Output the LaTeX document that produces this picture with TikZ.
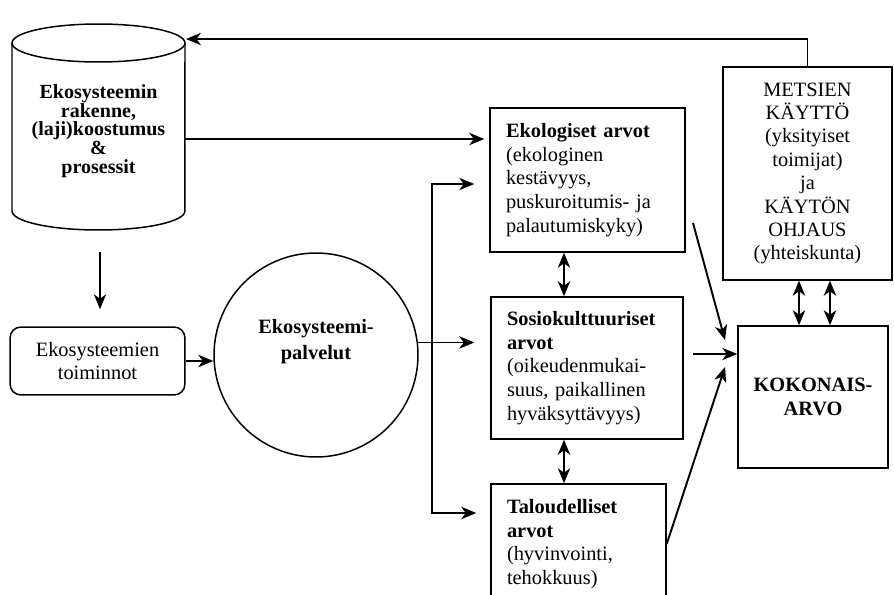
\documentclass[tikz,border=0pt]{standalone}
\usepackage{fontspec}
\setmainfont{Liberation Serif}
\usetikzlibrary{arrows.meta}

\begin{document}
\begin{tikzpicture}[x=0.02cm, y=-0.02cm,
  every node/.style={inner sep=0pt},
  box/.style={draw, line width=0.85pt},
  valbox/.style={box, align=left, inner xsep=0.32cm, font=\fontsize{11.6}{13.5}\selectfont},
  arr/.style={line width=1.1pt, -{Stealth[length=8.5pt,width=7pt,inset=2.5pt]}},
  dbl/.style={line width=1.1pt, {Stealth[length=8.5pt,width=7pt,inset=2.5pt]}-{Stealth[length=8.5pt,width=7pt,inset=2.5pt]}}]
\useasboundingbox (0,0) rectangle (894,595);
\clip (0,0) rectangle (894,595);

% Ecosystem cylinder
\draw[box] (12,43) -- (12,211) arc[start angle=180, end angle=360, x radius=1.73cm, y radius=0.38cm] -- (185,43);
\draw[box] (98.5,43) ellipse [x radius=1.73cm, y radius=0.38cm];
\node[font=\bfseries\fontsize{11.4}{10.6}\selectfont, align=center] (cyl) at (98.5,131)
  {Ekosysteemin\\rakenne,\\(laji)koostumus\\\&\\prosessit};
\coordinate (cylin) at (186,39);
\coordinate (cylout) at (185,139);
\coordinate (cylbot) at (100,230);

% Functions and services
\node[box, rounded corners=0.22cm, align=center, minimum width=3.5cm, minimum height=1.36cm,
  font=\fontsize{11.6}{13.1}\selectfont] (toim) at (97.5,361) {Ekosysteemien\\toiminnot};
\node[box, circle, minimum size=4.08cm] (svc) at (316,355) {};
\node[font=\bfseries\fontsize{11.6}{14.8}\selectfont, align=center] (svctxt) at (316,342) {Ekosysteemi-\\palvelut};

% Value boxes
\node[valbox, text width=3.26cm, minimum height=2.88cm] (eko) at (587.5,180)
  {\textbf{Ekologiset arvot}\\(ekologinen\\kestävyys,\\puskuroitumis- ja\\palautumiskyky)};
\node[valbox, text width=3.2cm, minimum height=2.84cm] (sosio) at (587,368)
  {\textbf{Sosiokulttuuriset}\\\textbf{arvot}\\(oikeudenmukai-\\suus, paikallinen\\hyväksyttävyys)};
\node[valbox, text width=2.86cm, minimum height=2.4cm] (talo) at (578.5,544)
  {\textbf{Taloudelliset}\\\textbf{arvot}\\(hyvinvointi,\\tehokkuus)};

% Total value and forest use
\node[box, align=center, minimum width=3cm, minimum height=2.84cm,
  font=\bfseries\fontsize{11.6}{13.5}\selectfont] (koko) at (813,397) {KOKONAIS-\\ARVO};
\node[box, align=center, minimum width=3.38cm, minimum height=4.26cm,
  font=\fontsize{11.6}{13.3}\selectfont] (mets) at (807.5,173.5)
  {METSIEN\\KÄYTTÖ\\(yksityiset\\toimijat)\\ja\\KÄYTÖN\\OHJAUS\\(yhteiskunta)};

% Arrows
\draw[arr] (mets.north) |- (cylin);
\draw[arr, shorten >=0.1cm] (cylout) -- (cylout -| eko.west);
\draw[arr, shorten <=0.44cm, shorten >=0.34cm] (cylbot) -- (cylbot |- toim.north);
\draw[arr] (toim.east) -- (toim.east -| svc.west);
\draw[arr, shorten >=0.32cm] (svc.7) -- (svc.7 -| sosio.west);
\coordinate (split) at (svc.7 -| 432,0);
\draw[arr, shorten >=0.3cm] (split) |- ([yshift=-0.08cm]eko.west);
\draw[arr, shorten >=0.28cm] (split) |- ([yshift=0.62cm]talo.west);

\draw[dbl] ([xshift=-0.47cm]eko.south) -- ([xshift=-0.47cm]eko.south |- sosio.north);
\draw[dbl] ([xshift=-0.46cm]sosio.south) -- ([xshift=-0.46cm]sosio.south |- talo.north);
\draw[dbl] ([xshift=-0.28cm]koko.north) -- ([xshift=-0.28cm]koko.north |- mets.south);
\draw[dbl] ([xshift=0.34cm]koko.north) -- ([xshift=0.34cm]koko.north |- mets.south);

\coordinate (ekout) at (693,223);
\coordinate (kin1) at (725,340);
\coordinate (sosout) at (693,354);
\coordinate (kin3) at (725,367);
\draw[arr] (ekout) -- (kin1);
\draw[arr] (sosout) -- (sosout -| koko.west);
\draw[arr] (talo.east) -- (kin3);

\end{tikzpicture}
\end{document}
